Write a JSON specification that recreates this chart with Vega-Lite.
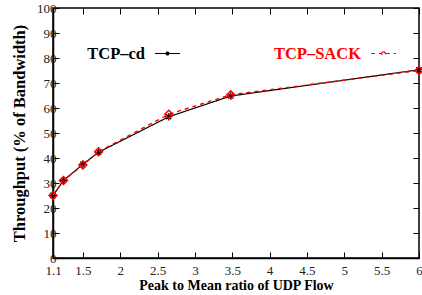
{
  "$schema": "https://vega.github.io/schema/vega-lite/v6.json",
  "width": 366,
  "height": 250,
  "autosize": "none",
  "padding": {"left": 53, "top": 8, "right": 3, "bottom": 37},
  "config": {
    "font": "Liberation Serif",
    "view": {"stroke": "black", "strokeWidth": 1.5},
    "axis": {
      "grid": false,
      "domainColor": "black",
      "domainWidth": 1.5,
      "tickColor": "black",
      "tickSize": -6,
      "tickWidth": 1,
      "labelFont": "Liberation Serif",
      "labelFontSize": 13,
      "labelColor": "#222",
      "labelFlush": false,
      "labelOverlap": false,
      "titleFont": "Liberation Serif",
      "titleFontSize": 14,
      "titleFontWeight": "bold",
      "titleColor": "black"
    },
    "legend": {
      "orient": "none",
      "legendX": 101,
      "legendY": 32,
      "direction": "horizontal",
      "columns": 2,
      "columnPadding": 90,
      "labelAlign": "right",
      "labelOffset": -36,
      "labelFont": "Liberation Serif",
      "labelFontSize": 16.5,
      "labelFontWeight": "bold",
      "labelLimit": 300,
      "symbolSize": 625,
      "symbolStrokeWidth": 1.2
    }
  },
  "data": {
    "values": [
      {"series": "TCP–cd", "ratio": 1.1, "throughput": 25},
      {"series": "TCP–cd", "ratio": 1.24, "throughput": 31},
      {"series": "TCP–cd", "ratio": 1.5, "throughput": 37.5},
      {"series": "TCP–cd", "ratio": 1.71, "throughput": 42.3},
      {"series": "TCP–cd", "ratio": 2.65, "throughput": 56.5},
      {"series": "TCP–cd", "ratio": 3.48, "throughput": 64.8},
      {"series": "TCP–cd", "ratio": 6, "throughput": 75.3},
      {"series": "TCP–SACK", "ratio": 1.1, "throughput": 25},
      {"series": "TCP–SACK", "ratio": 1.24, "throughput": 31},
      {"series": "TCP–SACK", "ratio": 1.5, "throughput": 37.2},
      {"series": "TCP–SACK", "ratio": 1.71, "throughput": 42.5},
      {"series": "TCP–SACK", "ratio": 2.65, "throughput": 57.5},
      {"series": "TCP–SACK", "ratio": 3.48, "throughput": 65.3},
      {"series": "TCP–SACK", "ratio": 6, "throughput": 75}
    ]
  },
  "layer": [
    {
      "transform": [{"filter": "datum.series == 'TCP–cd'"}],
      "mark": {"type": "line", "strokeWidth": 1.2},
      "encoding": {
        "x": {
          "field": "ratio", "type": "quantitative",
          "scale": {"domain": [1.1, 6], "nice": false, "zero": false},
          "axis": {"orient": "bottom", "values": [1.1, 1.5, 2, 2.5, 3, 3.5, 4, 4.5, 5, 5.5, 6], "format": "~g", "title": "Peak to Mean ratio of UDP Flow", "labelPadding": 12, "titlePadding": 1}
        },
        "y": {
          "field": "throughput", "type": "quantitative",
          "scale": {"domain": [0, 100], "nice": false},
          "axis": {"orient": "left", "values": [0, 10, 20, 30, 40, 50, 60, 70, 80, 90, 100], "format": "d", "title": "Throughput (%  of Bandwidth)", "titleFontSize": 16.5, "labelPadding": 3, "titlePadding": 9}
        },
        "color": {
          "field": "series", "type": "nominal",
          "scale": {"domain": ["TCP–cd", "TCP–SACK"], "range": ["black", "red"]},
          "legend": {
            "title": null,
            "encode": {
              "labels": {"update": {"fill": {"signal": "datum.value == 'TCP–cd' ? 'black' : 'red'"}}},
              "symbols": {"update": {
                "shape": {"signal": "datum.value == 'TCP–cd' ? 'M-1,0L1,0M-0.16,0L0.16,0M0,-0.16L0,0.16M-0.12,-0.12L0.12,0.12M-0.12,0.12L0.12,-0.12' : 'M-1,0L-0.18,0M0.18,0L1,0M0,-0.18L0.18,0L0,0.18L-0.18,0Z'"},
                "fill": {"value": "transparent"}
              }}
            }
          }
        },
        "strokeDash": {
          "field": "series", "type": "nominal",
          "scale": {"domain": ["TCP–cd", "TCP–SACK"], "range": [[1, 0], [4, 4]]},
          "legend": {"title": null}
        }
      }
    },
    {
      "transform": [{"filter": "datum.series == 'TCP–cd'"}],
      "mark": {"type": "point", "shape": "M-1,0L1,0M0,-1L0,1M-0.7,-0.7L0.7,0.7M-0.7,0.7L0.7,-0.7", "size": 56, "stroke": "black", "strokeWidth": 1.2, "filled": false, "opacity": 1},
      "encoding": {
        "x": {"field": "ratio", "type": "quantitative",
          "axis": {"orient": "top", "values": [1.1, 1.5, 2, 2.5, 3, 3.5, 4, 4.5, 5, 5.5, 6], "labels": false, "title": null, "domain": false}},
        "y": {"field": "throughput", "type": "quantitative",
          "axis": {"orient": "right", "values": [0, 10, 20, 30, 40, 50, 60, 70, 80, 90, 100], "labels": false, "title": null, "domain": false}}
      }
    },
    {
      "transform": [{"filter": "datum.series == 'TCP–SACK'"}],
      "mark": {"type": "line", "strokeWidth": 1.4},
      "encoding": {
        "x": {"field": "ratio", "type": "quantitative", "axis": null},
        "y": {"field": "throughput", "type": "quantitative", "axis": null},
        "color": {"field": "series", "type": "nominal"},
        "strokeDash": {"field": "series", "type": "nominal"}
      }
    },
    {
      "transform": [{"filter": "datum.series == 'TCP–SACK'"}],
      "mark": {"type": "point", "shape": "diamond", "size": 64, "stroke": "red", "strokeWidth": 1.5, "filled": false, "opacity": 1},
      "encoding": {
        "x": {"field": "ratio", "type": "quantitative", "axis": null},
        "y": {"field": "throughput", "type": "quantitative", "axis": null}
      }
    }
  ],
  "resolve": {"axis": {"x": "independent", "y": "independent"}}
}
